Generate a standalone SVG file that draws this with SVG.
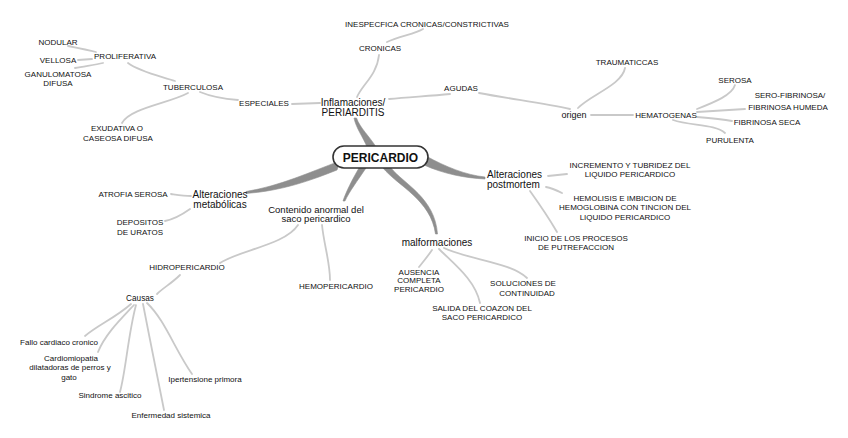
<svg xmlns="http://www.w3.org/2000/svg" width="848" height="438" viewBox="0 0 848 438">
<style>
  text { font-family: "Liberation Sans", Arial, sans-serif; fill: #111; text-anchor: middle; }
  .s { font-size: 8px; }
  .m { font-size: 10px; }
  .l { font-size: 8.2px; }
  .thin { fill: none; stroke: #c9c9c9; stroke-width: 1.8; stroke-linecap: round; }
  .thick { fill: #8e8e8e; stroke: #8e8e8e; stroke-width: 0.6; stroke-linejoin: round; }
  .root { fill: #fff; stroke: #333; stroke-width: 1.6; }
</style>
<rect width="848" height="438" fill="#fff"/>
<g id="connectors">
  <path class="thick" d="M354,118 C356,128 363,137 367,147 L376,147 C370,137 360,128 356.5,118 Z"/>
  <path class="thick" d="M426,156 C446,167 466,175 485,177 L485,179 C465,178 444,174 424,165 Z"/>
  <path class="thick" d="M340,161 C310,172 280,186 246,191.5 L246,193.5 C282,191 312,180 337,170 Z"/>
  <path class="thick" d="M359,168 C352,180 346,192 343,201 L345,201 C349,192 358,180 366,168 Z"/>
  <path class="thick" d="M383,168 C398,186 431,200 435.5,234 L437.5,234 C435,198 404,184 391,168 Z"/>
  <path class="thin" d="M357,97 C362,85 377,75 379,55"/>
  <path class="thin" d="M387,42 C400,36 415,34 423,29"/>
  <path class="thin" d="M389,99 C410,97 430,96 450,94"/>
  <path class="thin" d="M479,93 C510,99 545,103 570,109"/>
  <path class="thin" d="M578,108 C590,95 622,85 625,68"/>
  <path class="thin" d="M591,115 L633,115"/>
  <path class="thin" d="M697,109 C715,102 732,95 735,85"/>
  <path class="thin" d="M697,112 L745,109"/>
  <path class="thin" d="M697,117 C710,118 722,119 732,121"/>
  <path class="thin" d="M673,120 C690,126 715,124 725,133"/>
  <path class="thin" d="M292,104 L320,103"/>
  <path class="thin" d="M200,92 C212,97 225,99 238,100"/>
  <path class="thin" d="M128,63 C140,72 160,76 175,81"/>
  <path class="thin" d="M68,46 C78,48 88,50 96,52"/>
  <path class="thin" d="M78,60 L92,59"/>
  <path class="thin" d="M75,68 C85,66 95,65 103,63"/>
  <path class="thin" d="M188,93 C170,103 130,108 122,123"/>
  <path class="thin" d="M548,176 L567,174"/>
  <path class="thin" d="M546,187 C552,188 558,191 562,193"/>
  <path class="thin" d="M530,191 C540,205 550,220 557,232"/>
  <path class="thin" d="M171,194 C178,195 184,196 191,196"/>
  <path class="thin" d="M165,221 C175,219 183,214 190,209"/>
  <path class="thin" d="M298,225 C285,245 240,250 220,263"/>
  <path class="thin" d="M322,225 C324,245 330,262 330,280"/>
  <path class="thin" d="M180,275 C172,283 163,288 157,294"/>
  <path class="thin" d="M131,304 C115,318 98,325 85,336"/>
  <path class="thin" d="M134,305 C118,322 105,335 98,352"/>
  <path class="thin" d="M136,305 C128,335 126,370 120,392"/>
  <path class="thin" d="M143,304 C150,340 158,380 164,410"/>
  <path class="thin" d="M147,303 C165,320 175,350 192,374"/>
  <path class="thin" d="M432,250 C428,256 423,262 419,267"/>
  <path class="thin" d="M439,249 C455,265 475,280 480,303"/>
  <path class="thin" d="M444,248 C470,260 510,262 527,278"/>
</g>
<g id="pericardio">
  <rect class="root" x="333" y="146" width="95" height="22" rx="11"/>
  <text x="380.5" y="161.5" style="font-size:12px;font-weight:bold">PERICARDIO</text>
</g>
<g id="inflamaciones"><text class="m" x="353" y="106">Inflamaciones/</text><text class="m" x="353" y="116">PERIARDITIS</text></g>
<g id="cronicas"><text class="s" x="380" y="51">CRONICAS</text></g>
<g id="inespecifica"><text class="s" x="427" y="27">INESPECFICA CRONICAS/CONSTRICTIVAS</text></g>
<g id="agudas"><text class="s" x="461" y="91">AGUDAS</text></g>
<g id="origen"><text x="574" y="118" style="font-size:9px">origen</text></g>
<g id="traumaticas"><text class="s" x="627" y="65">TRAUMATICCAS</text></g>
<g id="hematogenas"><text class="s" x="666" y="118">HEMATOGENAS</text></g>
<g id="serosa"><text class="s" x="735" y="83">SEROSA</text></g>
<g id="serofibrinosa"><text class="s" x="790" y="98">SERO-FIBRINOSA/</text><text class="s" x="788" y="110">FIBRINOSA HUMEDA</text></g>
<g id="fibrinosaseca"><text class="s" x="767" y="125">FIBRINOSA SECA</text></g>
<g id="purulenta"><text class="s" x="730" y="143">PURULENTA</text></g>
<g id="especiales"><text class="s" x="264" y="106">ESPECIALES</text></g>
<g id="tuberculosa"><text class="s" x="193" y="90">TUBERCULOSA</text></g>
<g id="proliferativa"><text class="s" x="125" y="59">PROLIFERATIVA</text></g>
<g id="nodular"><text class="s" x="58" y="45">NODULAR</text></g>
<g id="vellosa"><text class="s" x="58" y="63">VELLOSA</text></g>
<g id="ganulomatosa"><text class="s" x="58" y="77">GANULOMATOSA</text><text class="s" x="58" y="86">DIFUSA</text></g>
<g id="exudativa"><text class="s" x="117" y="131">EXUDATIVA O</text><text class="s" x="118" y="141">CASEOSA DIFUSA</text></g>
<g id="postmortem"><text class="m" x="487" y="177.5" style="text-anchor:start">Alteraciones</text><text class="m" x="487" y="188" style="text-anchor:start">postmortem</text></g>
<g id="incremento"><text class="s" x="630" y="168">INCREMENTO Y TUBRIDEZ DEL</text><text class="s" x="630" y="177">LIQUIDO PERICARDICO</text></g>
<g id="hemolisis"><text class="s" x="625" y="201">HEMOLISIS E IMBICION DE</text><text class="s" x="625" y="210">HEMOGLOBINA CON TINCION DEL</text><text class="s" x="625" y="220">LIQUIDO PERICARDICO</text></g>
<g id="inicio"><text class="s" x="576" y="241">INICIO DE LOS PROCESOS</text><text class="s" x="576" y="250">DE PUTREFACCION</text></g>
<g id="metabolicas"><text class="m" x="220" y="198">Alteraciones</text><text class="m" x="220" y="208">metabólicas</text></g>
<g id="atrofia"><text class="s" x="133" y="197">ATROFIA SEROSA</text></g>
<g id="depositos"><text class="s" x="140" y="225">DEPOSITOS</text><text class="s" x="140" y="235">DE URATOS</text></g>
<g id="contenido"><text x="316" y="212.5" style="font-size:9.5px">Contenido anormal del</text><text x="316" y="222" style="font-size:9.5px">saco pericardico</text></g>
<g id="hidropericardio"><text class="s" x="187" y="270">HIDROPERICARDIO</text></g>
<g id="hemopericardio"><text class="s" x="336" y="289">HEMOPERICARDIO</text></g>
<g id="causas"><text class="l" x="140" y="301">Causas</text></g>
<g id="fallo"><text class="s" x="59" y="345">Fallo cardiaco cronico</text></g>
<g id="cardiomiopatia"><text class="s" x="71" y="361">Cardiomiopatia</text><text class="s" x="70" y="370">dilatadoras de perros y</text><text class="s" x="69" y="380">gato</text></g>
<g id="sindrome"><text class="s" x="110" y="398">Sindrome ascitico</text></g>
<g id="enfermedad"><text class="s" x="171" y="418">Enfermedad sistemica</text></g>
<g id="ipertension"><text class="s" x="205" y="382">Ipertensione primora</text></g>
<g id="malformaciones"><text class="m" x="437" y="245.5">malformaciones</text></g>
<g id="ausencia"><text class="s" x="419" y="275">AUSENCIA</text><text class="s" x="419" y="283">COMPLETA</text><text class="s" x="419" y="292">PERICARDIO</text></g>
<g id="salida"><text class="s" x="482" y="311">SALIDA DEL COAZON DEL</text><text class="s" x="482" y="320">SACO PERICARDICO</text></g>
<g id="soluciones"><text class="s" x="523" y="286">SOLUCIONES DE</text><text class="s" x="527" y="296">CONTINUIDAD</text></g>
</svg>
